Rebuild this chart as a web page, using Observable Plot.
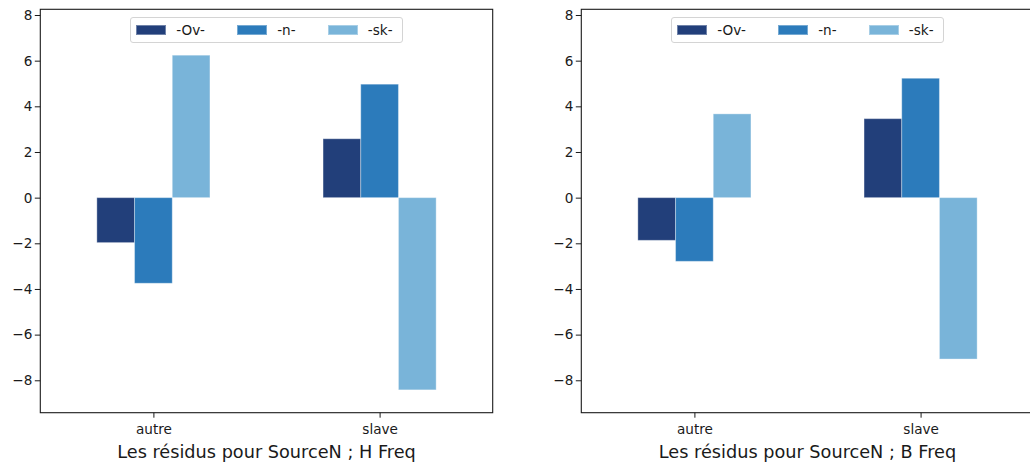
<!DOCTYPE html>
<html>
<head>
<meta charset="utf-8">
<script src="https://cdn.jsdelivr.net/npm/d3@7"></script>
<script src="https://cdn.jsdelivr.net/npm/@observablehq/plot@0.6"></script>
<style>
  html, body { margin: 0; padding: 0; background: #fff; overflow: hidden; }
  #wrap { position: relative; width: 1030px; height: 464px; overflow: hidden; font-family: "DejaVu Sans", sans-serif; color: #1a1a1a; }
  .panel { position: absolute; top: 0; }
  .panel svg { max-width: none !important; display: block; }
  .legend { position: absolute; box-sizing: border-box; height: 26px; border: 1px solid #d4d4d4; border-radius: 3px;
            background: rgba(255,255,255,0.8); display: flex; align-items: center; padding-left: 5.3px; font-size: 13.6px; }
  .legend .item { display: flex; align-items: center; }
  .legend .sw { width: 29.7px; height: 10px; margin-right: 10.3px; box-sizing: border-box; border: 1px solid rgba(255,255,255,0.35); }
  .legend .item + .item { margin-left: 32.3px; }
  .xlabel { position: absolute; top: 440px; height: 24px; line-height: 24px; font-size: 17.7px; text-align: center; white-space: nowrap; }
</style>
</head>
<body>
<div id="wrap"></div>
<script>
// ---- data ----
const categories = ["autre", "slave"];
const series = ["-Ov-", "-n-", "-sk-"];
const seriesColors = ["#223f7a", "#2c7bbb", "#79b4d9"];
const panelLabels = ["Les résidus pour SourceN ; H Freq", "Les résidus pour SourceN ; B Freq"];
const hOv = [-1.97, 2.58];
const hN = [-3.75, 4.97];
const hSk = [6.24, -8.42];
const bOv = [-1.87, 3.46];
const bN = [-2.79, 5.23];
const bSk = [3.67, -7.07];
const yTicks = [-8, -6, -4, -2, 0, 2, 4, 6, 8];

const panels = [
  {label: panelLabels[0], values: [hOv, hN, hSk]},
  {label: panelLabels[1], values: [bOv, bN, bSk]}
];

// ---- layout ----
const yDomain = [-9.42, 8.25];
const H = 440, MT = 9.3, MB = 27.3;
const layouts = [
  {left: 0, width: 515, ml: 40.3, mr: 22.3},
  {left: 515, width: 519.7, ml: 66.3, mr: 1}
];

const wrap = document.getElementById("wrap");

panels.forEach((p, i) => {
  const L = layouts[i];
  const rows = [];
  series.forEach((s, si) => categories.forEach((c, ci) => rows.push({cat: c, series: s, value: p.values[si][ci]})));

  const chart = Plot.plot({
    width: L.width, height: H,
    marginLeft: L.ml, marginRight: L.mr, marginTop: MT, marginBottom: MB,
    style: {fontFamily: "DejaVu Sans", fontSize: "13.6px", color: "#1a1a1a", background: "transparent", overflow: "visible"},
    fx: {domain: categories, padding: 0, round: false, label: null},
    x: {domain: series, paddingInner: 0, paddingOuter: 1.5, round: false, axis: null},
    y: {domain: yDomain},
    color: {domain: series, range: seriesColors},
    marks: [
      Plot.barY(rows, {fx: "cat", x: "series", y: "value", fill: "series", stroke: "#ffffff", strokeOpacity: 0.35, strokeWidth: 1}),
      Plot.axisY({ticks: yTicks, tickSize: 5.5, tickPadding: 3, tickFormat: d3.format("d"), label: null, stroke: "#1a1a1a"}),
      Plot.axisFx({anchor: "bottom", tickSize: 5, tickPadding: 6, label: null, stroke: "#1a1a1a"})
    ]
  });

  // axes box (spines)
  d3.select(chart).append("rect")
    .attr("x", L.ml).attr("y", MT)
    .attr("width", L.width - L.ml - L.mr).attr("height", H - MT - MB)
    .attr("fill", "none").attr("stroke", "#1a1a1a").attr("stroke-width", 1.1);

  const holder = document.createElement("div");
  holder.className = "panel";
  holder.style.left = L.left + "px";
  holder.style.width = L.width + "px";
  holder.style.height = H + "px";
  chart.style.maxWidth = "none";
  chart.style.width = L.width + "px";
  chart.style.height = H + "px";
  holder.appendChild(chart);
  wrap.appendChild(holder);

  // legend
  const plotLeft = L.left + L.ml;
  const plotW = L.width - L.ml - L.mr;
  const leg = document.createElement("div");
  leg.className = "legend";
  leg.style.left = (plotLeft + plotW / 2 - 136.5) + "px";
  leg.style.top = "16.7px";
  leg.style.width = "273px";
  series.forEach((s, si) => {
    const it = document.createElement("div");
    it.className = "item";
    const sw = document.createElement("div");
    sw.className = "sw";
    sw.style.background = seriesColors[si];
    const tx = document.createElement("span");
    tx.textContent = s;
    it.appendChild(sw); it.appendChild(tx);
    leg.appendChild(it);
  });
  wrap.appendChild(leg);

  // x label
  const xl = document.createElement("div");
  xl.className = "xlabel";
  xl.style.left = plotLeft + "px";
  xl.style.width = plotW + "px";
  xl.textContent = p.label;
  wrap.appendChild(xl);
});
</script>
</body>
</html>
